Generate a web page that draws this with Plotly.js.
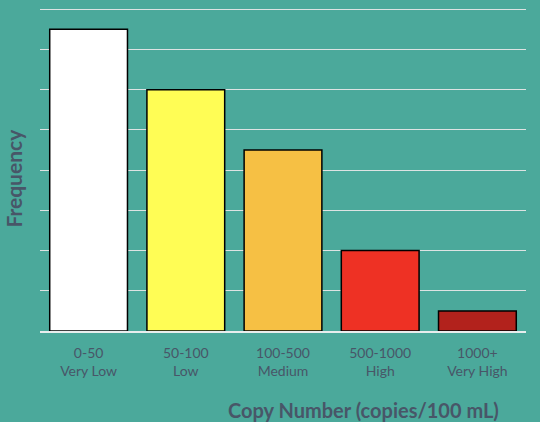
<!DOCTYPE html>
<html>
<head>
<meta charset="utf-8">
<script src="https://cdn.plot.ly/plotly-3.0.1.min.js"></script>
<style>html,body{margin:0;padding:0;background:#4ba99b;}</style>
</head>
<body>
<div id="chart" style="width:540px;height:422px;"></div>
<script>
const categories = ["0-50<br>Very Low", "50-100<br>Low", "100-500<br>Medium", "500-1000<br>High", "1000+<br>Very High"];
const frequency = [7.5, 6.0, 4.5, 2.0, 0.5];
const barColors = ["#ffffff", "#fffd55", "#f6c044", "#ee3124", "#b2221c"];
const xTitle = "Copy Number (copies/100 mL)";
const yTitle = "Frequency";

const textColor = "#485668";
const trace = {
  type: "bar",
  x: categories,
  y: frequency,
  marker: {color: barColors, line: {color: "#000000", width: 1.5}},
  hoverinfo: "skip"
};

const layout = {
  width: 540,
  height: 422,
  margin: {l: 40, r: 14, t: 8, b: 91},
  paper_bgcolor: "#4ba99b",
  plot_bgcolor: "#4ba99b",
  bargap: 0.2,
  showlegend: false,
  font: {family: "Lato, 'Open Sans', sans-serif", color: textColor},
  xaxis: {
    type: "category",
    showgrid: false,
    zeroline: false,
    showline: true,
    linecolor: "#e8eeee",
    linewidth: 2,
    ticks: "outside",
    ticklen: 8,
    tickcolor: "rgba(0,0,0,0)",
    tickfont: {size: 14, color: textColor},
    fixedrange: true
  },
  yaxis: {
    range: [0, 8.03],
    tickvals: [1, 2, 3, 4, 5, 6, 7, 8],
    showgrid: true,
    gridcolor: "#dde3e3",
    gridwidth: 1,
    zeroline: false,
    showticklabels: false,
    ticks: "",
    fixedrange: true
  },
  annotations: [
    {text: "<b>" + xTitle + "</b>", xref: "paper", yref: "paper",
     x: 0.665, y: -0.245, xanchor: "center", yanchor: "middle",
     showarrow: false, font: {size: 20, color: textColor}},
    {text: "<b>" + yTitle + "</b>", xref: "paper", yref: "paper",
     x: -0.0535, y: 0.475, xanchor: "center", yanchor: "middle", textangle: -90,
     showarrow: false, font: {size: 21, color: textColor}}
  ]
};

Plotly.newPlot("chart", [trace], layout, {displayModeBar: false, staticPlot: true});
</script>
</body>
</html>
